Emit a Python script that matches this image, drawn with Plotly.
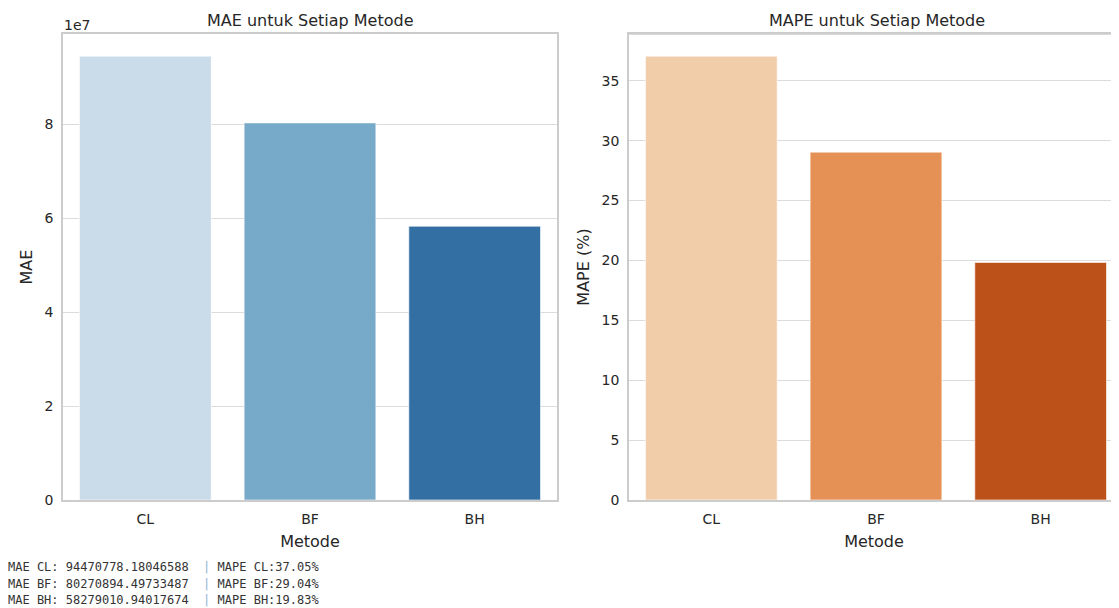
import plotly.graph_objects as go

methods = ["CL", "BF", "BH"]
mae_values = [94470778.18046588, 80270894.49733487, 58279010.94017674]
mape_values = [37.05, 29.04, 19.83]
mae_colors = ["#cadbea", "#77a9c9", "#336fa2"]
mape_colors = ["#f2cdaa", "#e59155", "#bd511a"]
mae_ticks = [0, 2e7, 4e7, 6e7, 8e7]
mae_ticktext = ["0", "2", "4", "6", "8"]
mape_ticks = [0, 5, 10, 15, 20, 25, 30, 35]

OFF = 8  # page offset of the plot div (body margin)
W, H = 1119 - OFF, 608 - OFF
TXT = "#262626"
GRID = "#dcdcdc"
SPINE = "#cccccc"


def px(x):
    return (x - OFF) / W


def py(y):
    return 1 - (y - OFF) / H


fig = go.Figure()
fig.add_trace(go.Bar(x=methods, y=mae_values, marker=dict(color=mae_colors, line=dict(color="rgba(255,255,255,0.6)", width=1)),
                     width=0.8, xaxis="x", yaxis="y", showlegend=False))
fig.add_trace(go.Bar(x=methods, y=mape_values, marker=dict(color=mape_colors, line=dict(color="rgba(255,255,255,0.6)", width=1)),
                     width=0.8, xaxis="x2", yaxis="y2", showlegend=False))

ydom = [py(500), py(34)]
axis_common = dict(showline=True, linecolor=SPINE, linewidth=1.5, ticks="", tickfont=dict(size=14, color=TXT),
                   zeroline=False, automargin=False, ticklabelstandoff=5)

right_px = 1119 - 629
right_range_max = -0.5 + 3 * right_px / 494

fig.update_layout(
    width=W, height=H, margin=dict(l=0, r=0, t=0, b=0, autoexpand=False), autosize=False,
    paper_bgcolor="white", plot_bgcolor="white",
    font=dict(family="DejaVu Sans", color=TXT),
    xaxis=dict(domain=[px(63), px(557)], range=[-0.5, 2.5], anchor="y", mirror=True, showgrid=False,
               title=dict(text="Metode", font=dict(size=16, color=TXT), standoff=10), **axis_common),
    yaxis=dict(domain=ydom, range=[0, max(mae_values) * 1.05], anchor="x", mirror=True, showgrid=True,
               gridcolor=GRID, gridwidth=1.2, tickvals=mae_ticks, ticktext=mae_ticktext,
               title=dict(text="MAE", font=dict(size=16, color=TXT), standoff=8), **axis_common),
    xaxis2=dict(domain=[px(629), 1.0], range=[-0.5, right_range_max], anchor="y2", mirror=True, showgrid=False,
                title=dict(text="Metode", font=dict(size=16, color=TXT), standoff=10), **axis_common),
    yaxis2=dict(domain=ydom, range=[0, max(mape_values) * 1.05], anchor="x2", showgrid=True,
                gridcolor=GRID, gridwidth=1.2, tickvals=mape_ticks,
                title=dict(text="MAPE (%)", font=dict(size=16, color=TXT), standoff=8), **axis_common),
)
fig.add_shape(type="line", xref="paper", yref="paper", x0=px(629), x1=1.0, y0=ydom[1], y1=ydom[1],
              line=dict(color=SPINE, width=1.5))

annotations = [
    dict(text="MAE untuk Setiap Metode", x=px(310), y=py(20), xref="paper", yref="paper",
         showarrow=False, font=dict(size=16, color=TXT), xanchor="center", yanchor="middle"),
    dict(text="MAPE untuk Setiap Metode", x=px(877), y=py(20), xref="paper", yref="paper",
         showarrow=False, font=dict(size=16, color=TXT), xanchor="center", yanchor="middle"),
    dict(text="1e7", x=px(62), y=py(25), xref="paper", yref="paper", showarrow=False,
         font=dict(size=14, color=TXT), xanchor="left", yanchor="middle"),
]
for i, m in enumerate(methods):
    left = f"MAE {m}: {mae_values[i]:.8f}".ljust(27).replace(" ", "&nbsp;")
    right = f" MAPE {m}:{mape_values[i]:.2f}%".replace(" ", "&nbsp;")
    line = left + "<span style='color:#8fb3d3'>|</span>" + right
    annotations.append(dict(text=line, x=px(6), y=py(567 + i * 16.5),
                            xref="paper", yref="paper", showarrow=False, xanchor="left", yanchor="middle",
                            font=dict(size=12, color="#333333", family="DejaVu Sans Mono")))
fig.update_layout(annotations=annotations)

fig.write_html("out.html")
